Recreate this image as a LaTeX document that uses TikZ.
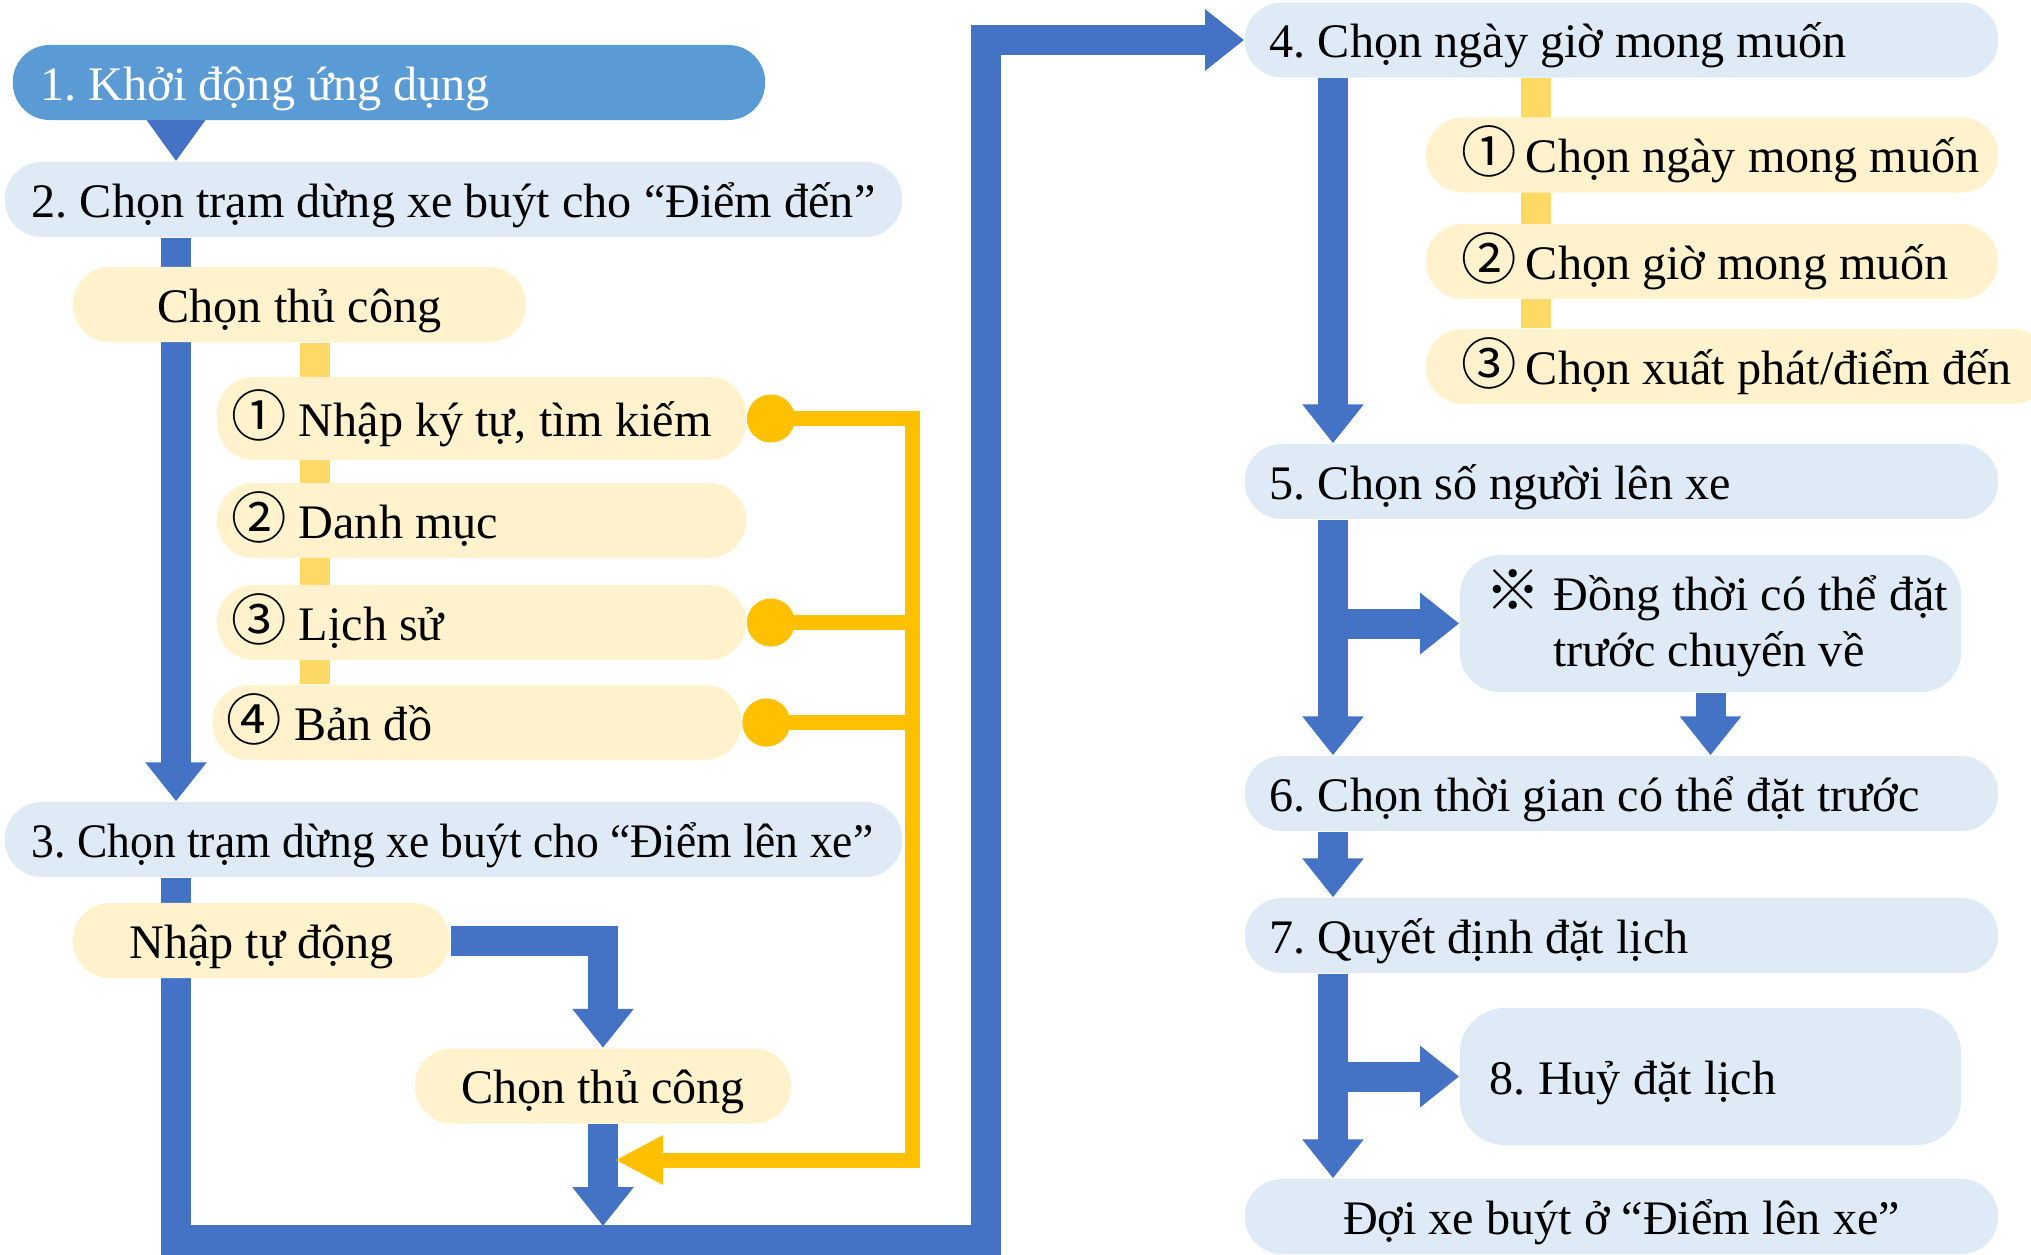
\documentclass[tikz,border=0pt]{standalone}
\usepackage{fontspec}
\setmainfont{Liberation Serif}
\newfontfamily\cjk{Noto Sans CJK JP}[Scale=1.15]
\usepackage{graphicx}
\usepackage{tikz}
\usetikzlibrary{arrows.meta,backgrounds}

\definecolor{stepblue}{HTML}{5B9BD5}
\definecolor{flowblue}{HTML}{4472C4}
\definecolor{paleblue}{HTML}{DEEBF7}
\definecolor{paleyellow}{HTML}{FFF2CC}
\definecolor{linkyellow}{HTML}{FFD966}
\definecolor{gold}{HTML}{FFC000}

\begin{document}
\begin{tikzpicture}[x=0.01cm,y=-0.01cm]
	\fontsize{13.7}{16}\selectfont
	\frenchspacing
	\def \leftcol{453.5}
	\def \rightcol{1621.5}
	\def \optcol{481.5}
	\def \subcol{1712}

	\tikzstyle{s-node}=[rectangle,rounded corners=0.37cm,fill=paleblue,inner ysep=0pt,minimum height=0.75cm,text height=0.45cm,text depth=0.1cm,execute at begin node={\spaceskip=0pt\xspaceskip=0pt}]
	\tikzstyle{o-node}=[s-node,fill=paleyellow]
	\tikzstyle{n-node}=[rectangle,rounded corners=0.4cm,fill=paleblue,inner ysep=0pt,execute at begin node={\spaceskip=0pt\xspaceskip=0pt}]
	\tikzstyle{flow}=[draw=flowblue,line width=0.3cm,-{Triangle[width=0.59cm,length=0.39cm]}]
	\tikzstyle{link}=[draw=linkyellow,line width=0.3cm]
	\tikzstyle{pick}=[draw=gold,line width=0.15cm,{Circle[length=0.48cm]}-]

	\useasboundingbox (0,0) rectangle (2031,1254);

	% lanes and turns
	\coordinate (lane-l) at (176,0);
	\coordinate (lane-r) at (1333,0);
	\coordinate (link-l) at (315,0);
	\coordinate (link-r) at (1536,0);
	\coordinate (turn-bl) at (176,1240);
	\coordinate (turn-br) at (986,1240);
	\coordinate (turn-tr) at (986,40);
	\coordinate (join) at (603,1226);
	\coordinate (g-corner) at (912,1160);
	\coordinate (g-tip) at (615,1160);

	% left column
	\node[s-node,fill=stepblue,text=white,text width=6.96cm,inner xsep=0.28cm] (s1) at (389,82.5) {\mbox{1. Khởi động ứng dụng}};
	\node[s-node,text width=8.43cm,inner xsep=0.27cm] (s2) at (\leftcol,199.5) {\mbox{2. Chọn trạm dừng xe buýt cho “Điểm đến”}};
	\node[o-node,minimum width=4.53cm,align=center] (a) at (299.5,304.5) {Chọn thủ công};
	\node[o-node,text width=5.0cm,inner xsep=0.145cm,minimum height=0.83cm] (n1) at (\optcol,418.5) {\mbox{{\cjk ①} Nhập ký tự, tìm kiếm}};
	\node[o-node,text width=5.0cm,inner xsep=0.145cm] (n2) at (\optcol,520.5) {\mbox{{\cjk ②} Danh mục}};
	\node[o-node,text width=5.0cm,inner xsep=0.145cm] (n3) at (\optcol,622.5) {\mbox{{\cjk ③} Lịch sử}};
	\node[o-node,text width=5.0cm,inner xsep=0.145cm] (n4) at (477,722.5) {\mbox{{\cjk ④} Bản đồ}};
	\node[s-node,text width=8.43cm,inner xsep=0.27cm] (s3) at (\leftcol,839.5) {\scalebox{0.945}[1]{3. Chọn trạm dừng xe buýt cho “Điểm lên xe”}};
	\node[o-node,minimum width=3.77cm,align=center] (b) at (261.5,940.5) {Nhập tự động};
	\node[o-node,minimum width=3.76cm,align=center] (c) at (603,1086) {Chọn thủ công};

	% right column
	\node[s-node,text width=7.03cm,inner xsep=0.25cm] (s4) at (\rightcol,40) {\mbox{4. Chọn ngày giờ mong muốn}};
	\node[o-node,text width=5.0cm,inner xsep=0.36cm] (t1) at (\subcol,155) {\mbox{{\cjk ①}\hspace{0.18em}Chọn ngày mong muốn}};
	\node[o-node,text width=5.0cm,inner xsep=0.36cm] (t2) at (\subcol,261.5) {\mbox{{\cjk ②}\hspace{0.18em}Chọn giờ mong muốn}};
	\node[o-node,text width=5.52cm,inner xsep=0.36cm] (t3) at (1738,366.5) {\mbox{{\cjk ③}\hspace{0.18em}Chọn xuất phát/điểm đến}};
	\node[s-node,text width=7.03cm,inner xsep=0.25cm] (s5) at (\rightcol,481.5) {\mbox{5. Chọn số người lên xe}};
	\node[n-node,text width=4.49cm,inner xsep=0.26cm,minimum height=1.37cm] (nt) at (1710.5,623.5) {\mbox{{\cjk ※}~Đồng thời có thể đặt}\\\mbox{\hphantom{{\cjk ※}~}trước chuyến về}};
	\node[s-node,text width=7.03cm,inner xsep=0.25cm] (s6) at (\rightcol,793.5) {\mbox{6. Chọn thời gian có thể đặt trước}};
	\node[s-node,text width=7.03cm,inner xsep=0.25cm] (s7) at (\rightcol,935.5) {\mbox{7. Quyết định đặt lịch}};
	\node[s-node,rounded corners=0.45cm,text width=4.41cm,inner xsep=0.3cm,minimum height=1.37cm] (s8) at (1710.5,1076.5) {\mbox{8. Huỷ đặt lịch}};
	\node[s-node,minimum width=7.53cm,align=center] (wait) at (\rightcol,1216.5) {Đợi xe buýt ở “Điểm lên xe”};

	\begin{scope}[on background layer]
	% left flow
	\draw[flow,-{Triangle[width=0.57cm,length=0.42cm]}] (s1.south -| lane-l) -- (s2.north -| lane-l);
	\draw[flow] (s2.south -| lane-l) -- (s3.north -| lane-l);
	\draw[link] (a.south -| link-l) -- (n4.north -| link-l);
	\draw[flow] (s3.south -| lane-l) -- (turn-bl) -- (turn-br) -- (turn-tr) -- (s4.west);
	\draw[flow] (b.east) -| (c.north);
	\draw[flow] (c.south) -- (join);
	\draw[pick,{Circle[length=0.48cm]}-{Triangle[width=0.46cm,length=0.48cm]}] (n1.east) -| (g-corner) -- (g-tip);
	\draw[pick] (n3.east) -- (n3.east -| g-corner);
	\draw[pick] (n4.east) -- (n4.east -| g-corner);
	% right flow
	\draw[link] (s4.south -| link-r) -- (t3.north -| link-r);
	\draw[flow] (s4.south -| lane-r) -- (s5.north -| lane-r);
	\draw[flow] (s5.south -| lane-r) -- (s6.north -| lane-r);
	\draw[flow] (nt.west -| lane-r) -- (nt.west);
	\draw[flow] (nt.south) -- (nt.south |- s6.north);
	\draw[flow] (s6.south -| lane-r) -- (s7.north -| lane-r);
	\draw[flow] (s7.south -| lane-r) -- (wait.north -| lane-r);
	\draw[flow] (s8.west -| lane-r) -- (s8.west);
	\end{scope}
\end{tikzpicture}
\end{document}
